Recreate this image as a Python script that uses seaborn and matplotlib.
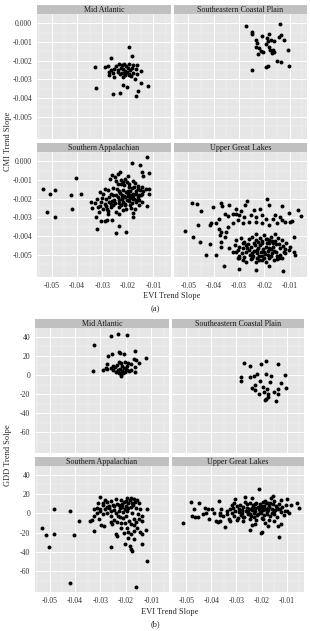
import numpy as np
import pandas as pd
import matplotlib
matplotlib.use("Agg")
import matplotlib.pyplot as plt
import seaborn as sns

regioes = ["Mid Atlantic", "Southeastern Coastal Plain", "Southern Appalachian", "Upper Great Lakes"]

# (a) EVI trend slope x CMI trend slope
mid_atlantic_cmi = [
    (-0.0194, -0.00129), (-0.0184, -0.00177), (-0.0266, -0.00184), (-0.0331, -0.00232), (-0.0292, -0.00236),
    (-0.0278, -0.00227), (-0.0247, -0.00230), (-0.0234, -0.00218), (-0.0223, -0.00222), (-0.0216, -0.00218),
    (-0.0208, -0.00227), (-0.0197, -0.00218), (-0.0182, -0.00222), (-0.0165, -0.00222), (-0.0253, -0.00245),
    (-0.0240, -0.00250), (-0.0227, -0.00239), (-0.0218, -0.00245), (-0.0210, -0.00254), (-0.0201, -0.00241),
    (-0.0192, -0.00248), (-0.0184, -0.00241), (-0.0169, -0.00245), (-0.0149, -0.00254), (-0.0273, -0.00262),
    (-0.0257, -0.00268), (-0.0231, -0.00271), (-0.0223, -0.00268), (-0.0214, -0.00268), (-0.0205, -0.00262),
    (-0.0195, -0.00271), (-0.0182, -0.00268), (-0.0165, -0.00271), (-0.0273, -0.00277), (-0.0253, -0.00285),
    (-0.0221, -0.00289), (-0.0197, -0.00277), (-0.0171, -0.00300), (-0.0327, -0.00348), (-0.0218, -0.00333),
    (-0.0205, -0.00342), (-0.0149, -0.00321), (-0.0123, -0.00337), (-0.0161, -0.00363), (-0.0260, -0.00379),
    (-0.0231, -0.00371), (-0.0168, -0.00390), (-0.0266, -0.00250), (-0.0240, -0.00262), (-0.0210, -0.00277),
    (-0.0188, -0.00280),
]
se_coastal_cmi = [
    (-0.0273, -0.00014), (-0.0136, -0.00005), (-0.0249, -0.00044), (-0.0247, -0.00059), (-0.0210, -0.00067),
    (-0.0182, -0.00059), (-0.0191, -0.00076), (-0.0175, -0.00090), (-0.0132, -0.00062), (-0.0143, -0.00073),
    (-0.0123, -0.00090), (-0.0231, -0.00090), (-0.0227, -0.00103), (-0.0234, -0.00126), (-0.0221, -0.00133),
    (-0.0214, -0.00147), (-0.0223, -0.00165), (-0.0205, -0.00151), (-0.0195, -0.00112), (-0.0182, -0.00126),
    (-0.0179, -0.00144), (-0.0166, -0.00144), (-0.0162, -0.00151), (-0.0169, -0.00161), (-0.0108, -0.00144),
    (-0.0149, -0.00200), (-0.0132, -0.00209), (-0.0101, -0.00227), (-0.0247, -0.00250), (-0.0195, -0.00232),
    (-0.0186, -0.00230), (-0.0184, -0.00094), (-0.0162, -0.00094),
]
s_appalachian_cmi = [
    (-0.0532, -0.00151), (-0.0506, -0.00176), (-0.0487, -0.00154), (-0.0517, -0.00273), (-0.0487, -0.00300),
    (-0.0425, -0.00183), (-0.0403, -0.00089), (-0.0386, -0.00176), (-0.0419, -0.00254), (-0.0127, 0.00021),
    (-0.0186, -0.00009), (-0.0152, -0.00020), (-0.0145, -0.00059), (-0.0140, -0.00080), (-0.0119, -0.00064),
    (-0.0231, -0.00059), (-0.0240, -0.00067), (-0.0262, -0.00073), (-0.0252, -0.00085), (-0.0270, -0.00094),
    (-0.0247, -0.00103), (-0.0227, -0.00098), (-0.0210, -0.00094), (-0.0201, -0.00080), (-0.0218, -0.00112),
    (-0.0195, -0.00121), (-0.0182, -0.00108), (-0.0174, -0.00115), (-0.0162, -0.00133), (-0.0143, -0.00138),
    (-0.0130, -0.00147), (-0.0119, -0.00151), (-0.0153, -0.00156), (-0.0292, -0.00151), (-0.0279, -0.00156),
    (-0.0309, -0.00165), (-0.0299, -0.00174), (-0.0260, -0.00144), (-0.0244, -0.00147), (-0.0234, -0.00161),
    (-0.0221, -0.00156), (-0.0208, -0.00165), (-0.0192, -0.00161), (-0.0179, -0.00174), (-0.0169, -0.00161),
    (-0.0158, -0.00179), (-0.0145, -0.00174), (-0.0119, -0.00174), (-0.0321, -0.00200), (-0.0301, -0.00197),
    (-0.0286, -0.00200), (-0.0273, -0.00191), (-0.0257, -0.00183), (-0.0240, -0.00191), (-0.0223, -0.00179),
    (-0.0210, -0.00191), (-0.0201, -0.00186), (-0.0188, -0.00183), (-0.0175, -0.00200), (-0.0162, -0.00191),
    (-0.0344, -0.00218), (-0.0331, -0.00222), (-0.0305, -0.00218), (-0.0292, -0.00227), (-0.0275, -0.00218),
    (-0.0262, -0.00215), (-0.0249, -0.00222), (-0.0234, -0.00209), (-0.0218, -0.00218), (-0.0197, -0.00215),
    (-0.0184, -0.00222), (-0.0169, -0.00218), (-0.0156, -0.00209), (-0.0127, -0.00239), (-0.0340, -0.00250),
    (-0.0318, -0.00245), (-0.0299, -0.00254), (-0.0283, -0.00257), (-0.0266, -0.00245), (-0.0247, -0.00271),
    (-0.0236, -0.00280), (-0.0221, -0.00262), (-0.0208, -0.00254), (-0.0192, -0.00236), (-0.0179, -0.00275),
    (-0.0179, -0.00298), (-0.0327, -0.00298), (-0.0305, -0.00321), (-0.0292, -0.00321), (-0.0283, -0.00316),
    (-0.0262, -0.00316), (-0.0322, -0.00363), (-0.0235, -0.00346), (-0.0247, -0.00383), (-0.0206, -0.00378),
    (-0.0312, -0.00271), (-0.0279, -0.00280), (-0.0257, -0.00236), (-0.0227, -0.00236), (-0.0210, -0.00236),
    (-0.0266, -0.00174), (-0.0195, -0.00138), (-0.0217, -0.00129), (-0.0239, -0.00121), (-0.0182, -0.00200),
    (-0.0156, -0.00236), (-0.0143, -0.00218), (-0.0223, -0.00200), (-0.0236, -0.00245), (-0.0230, -0.00170),
    (-0.0215, -0.00185), (-0.0200, -0.00175), (-0.0225, -0.00195), (-0.0205, -0.00205), (-0.0190, -0.00195),
    (-0.0245, -0.00180), (-0.0180, -0.00185), (-0.0170, -0.00175), (-0.0255, -0.00205), (-0.0235, -0.00225),
    (-0.0213, -0.00228), (-0.0198, -0.00160), (-0.0185, -0.00145), (-0.0175, -0.00135), (-0.0160, -0.00150),
    (-0.0268, -0.00230), (-0.0285, -0.00240), (-0.0165, -0.00205), (-0.0150, -0.00180), (-0.0140, -0.00160),
    (-0.0188, -0.00250), (-0.0172, -0.00255), (-0.0280, -0.00265), (-0.0310, -0.00240), (-0.0228, -0.00120),
    (-0.0205, -0.00110),
]
great_lakes_cmi = [
    (-0.0486, -0.00222), (-0.0468, -0.00230), (-0.0449, -0.00266), (-0.0403, -0.00245), (-0.0370, -0.00222),
    (-0.0368, -0.00239), (-0.0338, -0.00232), (-0.0270, -0.00215), (-0.0277, -0.00232), (-0.0312, -0.00254),
    (-0.0292, -0.00266), (-0.0240, -0.00262), (-0.0218, -0.00257), (-0.0190, -0.00200), (-0.0182, -0.00232),
    (-0.0130, -0.00239), (-0.0104, -0.00275), (-0.0065, -0.00262), (-0.0055, -0.00293), (-0.0091, -0.00321),
    (-0.0097, -0.00324), (-0.0130, -0.00316), (-0.0136, -0.00298), (-0.0156, -0.00289), (-0.0166, -0.00307),
    (-0.0195, -0.00307), (-0.0208, -0.00289), (-0.0234, -0.00298), (-0.0253, -0.00289), (-0.0279, -0.00298),
    (-0.0299, -0.00289), (-0.0312, -0.00280), (-0.0325, -0.00280), (-0.0344, -0.00293), (-0.0357, -0.00284),
    (-0.0379, -0.00307), (-0.0390, -0.00328), (-0.0409, -0.00328), (-0.0416, -0.00339), (-0.0464, -0.00339),
    (-0.0513, -0.00372), (-0.0481, -0.00404), (-0.0455, -0.00434), (-0.0416, -0.00445), (-0.0379, -0.00365),
    (-0.0370, -0.00378), (-0.0353, -0.00378), (-0.0344, -0.00351), (-0.0325, -0.00333), (-0.0305, -0.00316),
    (-0.0286, -0.00330), (-0.0260, -0.00324), (-0.0234, -0.00324), (-0.0208, -0.00333), (-0.0182, -0.00342),
    (-0.0149, -0.00328), (-0.0117, -0.00324), (-0.0429, -0.00502), (-0.0390, -0.00502), (-0.0360, -0.00560),
    (-0.0299, -0.00576), (-0.0231, -0.00582), (-0.0182, -0.00560), (-0.0127, -0.00590), (-0.0373, -0.00431),
    (-0.0370, -0.00457), (-0.0338, -0.00466), (-0.0312, -0.00484), (-0.0299, -0.00520), (-0.0286, -0.00528),
    (-0.0273, -0.00537), (-0.0247, -0.00520), (-0.0234, -0.00537), (-0.0208, -0.00528), (-0.0182, -0.00520),
    (-0.0162, -0.00528), (-0.0143, -0.00520), (-0.0117, -0.00493), (-0.0084, -0.00484), (-0.0078, -0.00502),
    (-0.0377, -0.00395), (-0.0357, -0.00404), (-0.0084, -0.00404), (-0.0312, -0.00422), (-0.0292, -0.00413),
    (-0.0279, -0.00431), (-0.0260, -0.00417), (-0.0247, -0.00404), (-0.0234, -0.00422), (-0.0218, -0.00410),
    (-0.0201, -0.00395), (-0.0188, -0.00417), (-0.0175, -0.00404), (-0.0158, -0.00392), (-0.0145, -0.00413),
    (-0.0130, -0.00422), (-0.0114, -0.00440), (-0.0097, -0.00457), (-0.0314, -0.00449), (-0.0299, -0.00457),
    (-0.0283, -0.00466), (-0.0266, -0.00445), (-0.0253, -0.00457), (-0.0236, -0.00449), (-0.0223, -0.00466),
    (-0.0210, -0.00440), (-0.0195, -0.00457), (-0.0182, -0.00440), (-0.0166, -0.00457), (-0.0153, -0.00445),
    (-0.0136, -0.00466), (-0.0119, -0.00470), (-0.0104, -0.00475), (-0.0325, -0.00484), (-0.0305, -0.00475),
    (-0.0288, -0.00493), (-0.0273, -0.00484), (-0.0257, -0.00502), (-0.0240, -0.00480), (-0.0227, -0.00493),
    (-0.0214, -0.00484), (-0.0197, -0.00498), (-0.0184, -0.00480), (-0.0169, -0.00493), (-0.0153, -0.00484),
    (-0.0136, -0.00502), (-0.0123, -0.00484), (-0.0305, -0.00516), (-0.0279, -0.00511), (-0.0253, -0.00523),
    (-0.0227, -0.00516), (-0.0201, -0.00516), (-0.0175, -0.00505), (-0.0149, -0.00523), (-0.0130, -0.00516),
    (-0.0234, -0.00387), (-0.0208, -0.00427), (-0.0182, -0.00466), (-0.0156, -0.00427), (-0.0260, -0.00475),
    (-0.0195, -0.00537), (-0.0273, -0.00449), (-0.0221, -0.00505), (-0.0225, -0.00430), (-0.0205, -0.00470),
    (-0.0190, -0.00440), (-0.0170, -0.00425), (-0.0215, -0.00450), (-0.0200, -0.00485), (-0.0240, -0.00440),
    (-0.0175, -0.00470), (-0.0160, -0.00480), (-0.0250, -0.00490), (-0.0195, -0.00415), (-0.0230, -0.00475),
    (-0.0185, -0.00500), (-0.0210, -0.00510), (-0.0270, -0.00465), (-0.0165, -0.00440), (-0.0140, -0.00445),
    (-0.0125, -0.00455), (-0.0285, -0.00440), (-0.0300, -0.00505), (-0.0150, -0.00505), (-0.0220, -0.00530),
    (-0.0245, -0.00505), (-0.0180, -0.00420),
]

# (b) EVI trend slope x GDD trend slope
mid_atlantic_gdd = [
    (-0.0257, 40.3), (-0.0230, 42.8), (-0.0194, 42.1), (-0.0327, 31.0), (-0.0270, 19.7), (-0.0253, 21.4),
    (-0.0227, 24.1), (-0.0223, 22.4), (-0.0208, 21.4), (-0.0166, 24.8), (-0.0123, 17.9), (-0.0169, 16.2),
    (-0.0162, 15.5), (-0.0149, 12.8), (-0.0227, 13.8), (-0.0218, 12.8), (-0.0205, 13.8), (-0.0192, 12.8),
    (-0.0182, 11.0), (-0.0273, 11.0), (-0.0279, 7.6), (-0.0292, 5.2), (-0.0275, 5.9), (-0.0249, 9.3),
    (-0.0249, 5.2), (-0.0240, 3.4), (-0.0231, 4.8), (-0.0223, 5.9), (-0.0214, 4.1), (-0.0208, 7.6),
    (-0.0201, 5.9), (-0.0195, 4.8), (-0.0188, 4.1), (-0.0182, 5.2), (-0.0165, 8.3), (-0.0164, 3.1),
    (-0.0227, 2.4), (-0.0221, 0.7), (-0.0218, -1.0), (-0.0210, 2.4), (-0.0203, 3.4), (-0.0331, 4.1),
    (-0.0244, 8.3), (-0.0214, 9.3), (-0.0195, 9.3), (-0.0236, 10.3), (-0.0257, 6.9),
]
se_coastal_gdd = [
    (-0.0271, 12.8), (-0.0247, 9.3), (-0.0201, 11.0), (-0.0183, 14.5), (-0.0134, 11.7), (-0.0283, -1.7),
    (-0.0247, -2.1), (-0.0230, -1.0), (-0.0217, 1.4), (-0.0206, -6.2), (-0.0181, 0.7), (-0.0162, -1.0),
    (-0.0165, -7.2), (-0.0108, -0.3), (-0.0283, -6.2), (-0.0227, -10.3), (-0.0238, -13.8), (-0.0225, -15.9),
    (-0.0212, -20.0), (-0.0194, -13.1), (-0.0191, -17.6), (-0.0175, -20.0), (-0.0173, -23.4), (-0.0182, -25.2),
    (-0.0188, -26.2), (-0.0152, -17.6), (-0.0136, -15.2), (-0.0136, -20.0), (-0.0123, -8.6), (-0.0103, -14.1),
    (-0.0144, -26.9), (-0.0178, -14.8),
]
s_appalachian_gdd = [
    (-0.0530, -14.8), (-0.0513, -22.1), (-0.0504, -34.5), (-0.0483, 4.1), (-0.0481, -21.7), (-0.0418, 2.4),
    (-0.0403, -22.4), (-0.0383, -7.9), (-0.0419, -71.7), (-0.0258, -34.5), (-0.0162, -76.2), (-0.0119, -49.3),
    (-0.0301, 16.9), (-0.0283, 13.4), (-0.0195, 16.2), (-0.0182, 15.5), (-0.0169, 14.5), (-0.0156, 13.4),
    (-0.0309, 11.0), (-0.0292, 11.0), (-0.0273, 11.7), (-0.0257, 12.8), (-0.0240, 14.5), (-0.0221, 13.4),
    (-0.0208, 12.1), (-0.0190, 11.0), (-0.0175, 10.3), (-0.0149, 11.0), (-0.0325, 4.8), (-0.0312, 5.9),
    (-0.0301, 4.8), (-0.0283, 4.1), (-0.0266, 5.9), (-0.0247, 7.6), (-0.0227, 8.3), (-0.0214, 6.9),
    (-0.0201, 7.6), (-0.0182, 6.9), (-0.0171, 8.3), (-0.0162, 5.9), (-0.0143, 4.8), (-0.0119, 4.8),
    (-0.0340, -7.9), (-0.0335, -6.9), (-0.0327, -2.8), (-0.0314, 0.7), (-0.0292, -1.0), (-0.0275, 0.7),
    (-0.0257, 2.4), (-0.0240, 0.7), (-0.0227, 2.4), (-0.0210, 1.4), (-0.0195, 2.4), (-0.0175, 0.7),
    (-0.0153, -1.0), (-0.0136, -2.8), (-0.0305, -6.2), (-0.0299, -12.4), (-0.0286, -13.1), (-0.0253, -11.4),
    (-0.0247, -6.9), (-0.0234, -9.0), (-0.0218, -9.7), (-0.0205, -10.3), (-0.0188, -7.9), (-0.0169, -5.5),
    (-0.0149, -6.2), (-0.0136, -7.9), (-0.0327, -18.3), (-0.0240, -21.7), (-0.0234, -23.4), (-0.0208, -20.0),
    (-0.0192, -19.0), (-0.0182, -21.7), (-0.0169, -18.3), (-0.0156, -14.8), (-0.0145, -19.3), (-0.0136, -21.7),
    (-0.0123, -17.6), (-0.0205, -31.4), (-0.0184, -33.8), (-0.0179, -37.2), (-0.0175, -39.0), (-0.0136, -31.4),
    (-0.0192, -25.2), (-0.0218, -14.8), (-0.0260, -2.8), (-0.0231, -2.8), (-0.0201, -2.8), (-0.0182, -11.4),
    (-0.0169, -26.9), (-0.0235, 10.0), (-0.0215, 9.5), (-0.0200, 12.5), (-0.0250, 9.0), (-0.0265, 8.0),
    (-0.0225, 5.0), (-0.0205, 4.0), (-0.0190, 5.5), (-0.0245, 3.5), (-0.0275, 7.0), (-0.0290, 8.5),
    (-0.0185, 13.5), (-0.0165, 11.5), (-0.0210, -5.0), (-0.0225, -4.0), (-0.0195, -15.5), (-0.0170, -12.0),
    (-0.0160, -9.0), (-0.0260, -8.5), (-0.0300, 2.5),
]
great_lakes_gdd = [
    (-0.0512, -10.3), (-0.0483, 12.1), (-0.0477, -2.8), (-0.0468, 4.8), (-0.0464, -3.4), (-0.0448, 10.3),
    (-0.0455, -3.8), (-0.0425, 5.2), (-0.0412, 4.8), (-0.0409, -6.2), (-0.0399, 4.1), (-0.0390, 0.0),
    (-0.0383, -7.9), (-0.0373, -9.0), (-0.0370, 12.8), (-0.0366, 0.0), (-0.0364, -7.9), (-0.0360, 4.8),
    (-0.0353, -2.8), (-0.0344, -13.8), (-0.0338, 2.4), (-0.0331, -6.2), (-0.0325, -7.9), (-0.0212, 24.8),
    (-0.0247, -17.2), (-0.0240, -12.4), (-0.0201, -20.0), (-0.0197, -19.0), (-0.0175, -13.1), (-0.0130, -24.5),
    (-0.0134, -13.1), (-0.0123, -11.4), (-0.0097, 2.4), (-0.0084, 8.3), (-0.0058, 10.3), (-0.0052, 5.9),
    (-0.0097, 14.5), (-0.0121, 13.8), (-0.0156, 17.9), (-0.0175, 11.0), (-0.0162, 16.2), (-0.0266, 17.2),
    (-0.0240, 16.2), (-0.0305, 14.5), (-0.0318, 8.3), (-0.0266, 11.7), (-0.0364, -2.1), (-0.0422, 0.7),
    (-0.0435, -1.0), (-0.0325, 4.1), (-0.0312, 5.9), (-0.0299, 7.6), (-0.0286, 8.3), (-0.0273, 6.9),
    (-0.0260, 9.3), (-0.0247, 10.3), (-0.0234, 8.3), (-0.0221, 11.0), (-0.0208, 9.3), (-0.0195, 11.7),
    (-0.0182, 10.3), (-0.0169, 8.3), (-0.0156, 9.3), (-0.0143, 7.6), (-0.0130, 9.3), (-0.0117, 6.9),
    (-0.0104, 8.3), (-0.0318, 0.7), (-0.0305, 2.4), (-0.0290, 1.4), (-0.0277, 3.4), (-0.0264, 2.4),
    (-0.0251, 4.8), (-0.0238, 3.4), (-0.0225, 5.9), (-0.0212, 4.1), (-0.0199, 5.9), (-0.0186, 4.8),
    (-0.0173, 3.4), (-0.0160, 4.8), (-0.0147, 3.4), (-0.0134, 4.1), (-0.0121, 1.4), (-0.0108, 2.4),
    (-0.0308, -2.8), (-0.0295, -4.5), (-0.0282, -2.1), (-0.0269, -3.4), (-0.0256, -1.0), (-0.0243, -2.8),
    (-0.0230, 0.0), (-0.0217, -2.1), (-0.0204, 0.0), (-0.0191, -2.1), (-0.0178, -1.0), (-0.0165, -2.8),
    (-0.0152, -1.0), (-0.0139, -3.4), (-0.0299, -6.9), (-0.0273, -7.9), (-0.0247, -6.2), (-0.0221, -6.9),
    (-0.0195, -5.5), (-0.0169, -6.9), (-0.0149, -7.9), (-0.0188, -9.7), (-0.0227, -11.4), (-0.0279, 0.7),
    (-0.0227, 2.4), (-0.0175, 5.9), (-0.0253, 1.4), (-0.0201, 7.6), (-0.0149, 12.8), (-0.0292, 4.8),
    (-0.0110, -2.1), (-0.0091, 0.7), (-0.0338, -1.0), (-0.0308, 10.3), (-0.0215, 7.0), (-0.0190, 8.0),
    (-0.0240, 6.0), (-0.0170, 6.5), (-0.0205, 2.0), (-0.0180, 1.5), (-0.0230, -4.0), (-0.0200, -4.5),
    (-0.0160, 0.5), (-0.0260, 5.5), (-0.0140, 6.0), (-0.0125, 4.0), (-0.0215, -0.5), (-0.0185, 12.5),
    (-0.0245, -0.5), (-0.0275, -4.0), (-0.0150, 2.0), (-0.0195, 3.0), (-0.0225, 9.5), (-0.0165, 10.5),
]

evi_ticks = [-0.05, -0.04, -0.03, -0.02, -0.01]
evi_labels = ["-0.05", "-0.04", "-0.03", "-0.02", "-0.01"]
cmi_ticks = [0.0, -0.001, -0.002, -0.003, -0.004, -0.005]
cmi_labels = ["0.000", "-0.001", "-0.002", "-0.003", "-0.004", "-0.005"]
gdd_ticks = [40, 20, 0, -20, -40, -60]
gdd_labels = ["40", "20", "0", "-20", "-40", "-60"]

sns.set_style("darkgrid")
plt.rcParams["font.family"] = ["Liberation Serif", "DejaVu Serif"]
plt.rcParams["axes.unicode_minus"] = False

W, H = 310, 631
FUNDO = "#E6E6E6"
FAIXA = "#C0C0C0"


def monta_df(listas):
    partes = []
    for regiao, pontos in zip(regioes, listas):
        arr = np.array(pontos)
        partes.append(pd.DataFrame({"evi": arr[:, 0], "valor": arr[:, 1], "regiao": regiao}))
    return pd.concat(partes, ignore_index=True)


def caixa(x0, y0, x1, y1):
    return [x0 / W, 1 - y1 / H, (x1 - x0) / W, (y1 - y0) / H]


def painel(fig, df, cols, linhas, ylim, yticks, ylabels, yminor, ylabel, tag, ytitle_y, xtitle_y, tag_y):
    xlim = (-0.0557, -0.0031)
    xminor = [-0.055, -0.045, -0.035, -0.025, -0.015, -0.005]
    for i, regiao in enumerate(regioes):
        r, c = divmod(i, 2)
        x0, x1 = cols[c]
        s0, p0, p1 = linhas[r]
        # faixa do titulo
        st = fig.add_axes(caixa(x0, s0, x1, p0))
        st.set_facecolor(FAIXA)
        st.set_xticks([])
        st.set_yticks([])
        for sp in st.spines.values():
            sp.set_visible(False)
        st.text(0.5, 0.45, regiao, ha="center", va="center", fontsize=5.8, color="#1A1A1A",
                transform=st.transAxes)
        ax = fig.add_axes(caixa(x0, p0, x1, p1))
        ax.set_facecolor(FUNDO)
        dados = df.loc[df["regiao"] == regiao]
        sns.scatterplot(data=dados, x="evi", y="valor", ax=ax, color="black", s=8,
                        linewidth=0, zorder=3, legend=False)
        ax.set_xlim(xlim)
        ax.set_ylim(ylim)
        ax.set_xticks(evi_ticks)
        ax.set_yticks(yticks)
        ax.set_xticks(xminor, minor=True)
        ax.set_yticks(yminor, minor=True)
        ax.grid(True, which="major", color="white", linewidth=0.7)
        ax.grid(True, which="minor", color="#F4F4F4", linewidth=0.35)
        ax.set_axisbelow(True)
        for sp in ax.spines.values():
            sp.set_visible(False)
        ax.set_xlabel("")
        ax.set_ylabel("")
        ax.tick_params(which="minor", length=0)
        ax.tick_params(which="major", length=2, width=0.5, color="#333333", labelsize=5.6,
                       labelcolor="#333333", pad=1.5)
        if c == 0:
            ax.set_yticklabels(ylabels)
        else:
            ax.tick_params(axis="y", length=0, labelleft=False)
        if r == 1:
            ax.set_xticklabels(evi_labels)
        else:
            ax.tick_params(axis="x", length=0, labelbottom=False)

    centro_x = (cols[0][0] + cols[1][1]) / 2 / W
    fig.text(centro_x, 1 - xtitle_y / H, "EVI Trend Slope", ha="center", va="center", fontsize=6)
    fig.text(0.5, 1 - tag_y / H, tag, ha="center", va="center", fontsize=6)
    fig.text(8 / W, 1 - ytitle_y / H, ylabel, ha="center", va="center", rotation=90, fontsize=6)


fig = plt.figure(figsize=(W / 100, H / 100), dpi=100)

df_a = monta_df([mid_atlantic_cmi, se_coastal_cmi, s_appalachian_cmi, great_lakes_cmi])
df_b = monta_df([mid_atlantic_gdd, se_coastal_gdd, s_appalachian_gdd, great_lakes_gdd])

painel(fig, df_a, cols=[(37, 171), (174, 307)], linhas=[(5, 14, 139), (143, 152, 277)],
       ylim=(-0.0062, 0.0005), yticks=cmi_ticks, ylabels=cmi_labels,
       yminor=[0.0005, -0.0005, -0.0015, -0.0025, -0.0035, -0.0045, -0.0055],
       ylabel="CMI Trend Slope", tag="(a)", ytitle_y=141, xtitle_y=296, tag_y=309)

painel(fig, df_b, cols=[(35, 169), (172, 304)], linhas=[(319, 328, 453), (457, 466, 592)],
       ylim=(-81.5, 49), yticks=gdd_ticks, ylabels=gdd_labels,
       yminor=[30, 10, -10, -30, -50, -70],
       ylabel="GDD Trend Solpe", tag="(b)", ytitle_y=455, xtitle_y=612, tag_y=624)

fig.savefig("out.png", dpi=100)
plt.close(fig)
